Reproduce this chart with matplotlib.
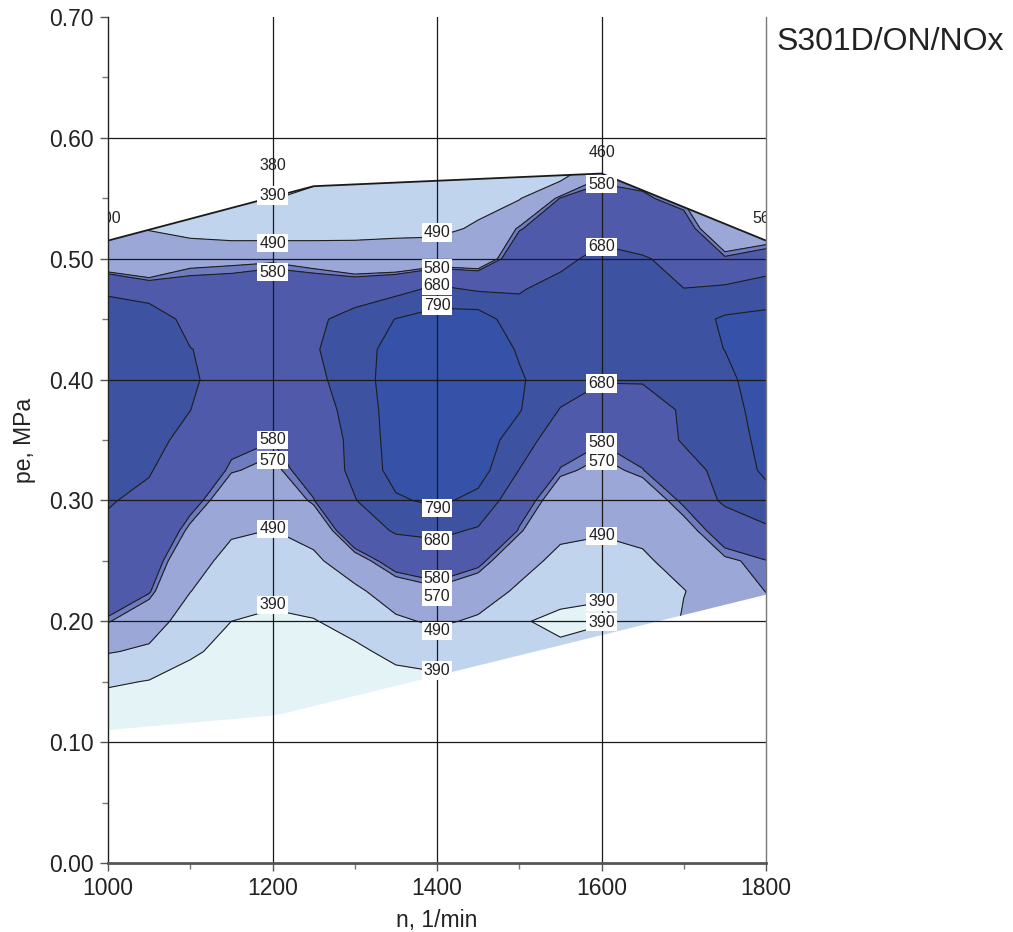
import numpy as np
import matplotlib
matplotlib.use("Agg")
import matplotlib.pyplot as plt
from matplotlib.patches import Polygon
from matplotlib.ticker import MultipleLocator

plt.rcParams['font.family'] = ['Liberation Sans', 'DejaVu Sans']

# ---------------- data ----------------
speed = [1000, 1050, 1100, 1150, 1200, 1250, 1300, 1350, 1400,
         1450, 1500, 1550, 1600, 1650, 1700, 1750, 1800]
pe = [0.100, 0.125, 0.150, 0.175, 0.200, 0.225, 0.250, 0.275, 0.300, 0.325,
      0.350, 0.375, 0.400, 0.425, 0.450, 0.475, 0.500, 0.525, 0.550, 0.575]

# NOx values, one list per speed (bottom -> top in pe)
nox_by_speed = [
    [260, 330, 405, 496, 573, 617, 640, 665, 686, 700, 715, 730, 742, 745, 743, 660, 500, 495, 485, 475],
    [270, 320, 385, 475, 533, 584, 608, 634, 661, 686, 708, 730, 748, 750, 756, 610, 503, 489, 470, 450],
    [290, 320, 358, 402, 447, 492, 526, 561, 598, 624, 652, 681, 695, 683, 639, 598, 557, 458, 430, 410],
    [300, 320, 340, 365, 390, 427, 463, 501, 540, 573, 593, 612, 632, 640, 630, 600, 561, 442, 388, 360],
    [290, 310, 330, 350, 378, 409, 449, 488, 523, 560, 581, 600, 625, 645, 640, 615, 563, 441, 388, 360],
    [300, 330, 350, 368, 386, 427, 471, 523, 578, 603, 615, 630, 650, 668, 660, 615, 548, 451, 403, 370],
    [320, 345, 360, 375, 418, 471, 548, 625, 675, 705, 705, 718, 740, 748, 715, 623, 515, 474, 430, 415],
    [320, 345, 365, 410, 475, 539, 604, 690, 776, 830, 840, 842, 840, 825, 793, 644, 511, 480, 440, 420],
    [330, 355, 375, 420, 504, 561, 617, 704, 811, 842, 858, 862, 860, 855, 840, 701, 523, 477, 445, 425],
    [340, 360, 385, 423, 477, 535, 593, 668, 760, 835, 848, 852, 852, 855, 848, 665, 523, 497, 472, 450],
    [340, 360, 380, 398, 394, 476, 524, 576, 605, 678, 738, 797, 800, 781, 720, 672, 623, 576, 485, 440],
    [340, 360, 385, 399, 380, 405, 466, 510, 543, 577, 610, 675, 737, 755, 750, 715, 652, 616, 582, 420],
    [350, 380, 400, 420, 385, 393, 453, 499, 528, 560, 583, 635, 686, 715, 735, 738, 712, 639, 604, 554],
    [360, 380, 395, 400, 400, 438, 476, 511, 545, 578, 610, 640, 687, 715, 730, 725, 690, 607, 586, 560],
    [400, 430, 460, 480, 500, 487, 525, 555, 586, 637, 690, 690, 752, 762, 740, 681, 642, 603, 565, 545],
    [440, 470, 490, 500, 510, 540, 565, 600, 700, 715, 730, 748, 770, 791, 805, 695, 585, 520, 510, 500],
    [480, 510, 530, 540, 550, 571, 578, 660, 750, 810, 825, 835, 835, 825, 815, 735, 605, 530, 520, 510],
]

levels = [390, 490, 570, 580, 680, 790]

# operating range boundary
top_speed = [1000, 1200, 1250, 1600, 1800]
top_pe = [0.515, 0.551, 0.560, 0.5705, 0.515]
bottom_speed = [1800, 1215, 1200, 1000]
bottom_pe = [0.222, 0.124, 0.122, 0.110]

# contour labels
label_speed = [1200, 1200, 1200, 1400, 1400, 1400, 1400, 1600, 1600,
               1600, 1600, 1600, 1600, 1600, 1600,
               1200, 1200, 1200, 1200,
               1400, 1400, 1400, 1400, 1400, 1400]
label_pe = [0.552, 0.513, 0.489, 0.522, 0.4923, 0.478, 0.461, 0.5618, 0.5097,
            0.397, 0.348, 0.3326, 0.2706, 0.216, 0.1994,
            0.350, 0.3334, 0.2764, 0.2135,
            0.2937, 0.267, 0.2205, 0.235, 0.192, 0.159]
label_text = ['390', '490', '580', '490', '580', '680', '790', '580', '680',
              '680', '580', '570', '490', '390', '390',
              '580', '570', '490', '390',
              '790', '680', '570', '580', '490', '390']

# values written on the full-load line
edge_speed = [1000, 1200, 1600, 1800]
edge_pe = [0.533, 0.5775, 0.588, 0.533]
edge_text = ['300', '380', '460', '560']

# ---------------- plot ----------------
colors = ['#e4f3f6', '#c1d4ed', '#9ba7d7', '#6f7bbf', '#4f5baa', '#3e52a2', '#3551a8']

fig = plt.figure(figsize=(10.13, 9.32), dpi=100)
ax = fig.add_axes([108 / 1013, 69 / 932, 658 / 1013, 846 / 932])

N = np.array(speed, dtype=float)
P = np.array(pe, dtype=float)
Z = np.array(nox_by_speed, dtype=float).T

poly_x = top_speed + bottom_speed
poly_y = top_pe + bottom_pe
clip = Polygon(np.column_stack([poly_x, poly_y]), closed=True,
               transform=ax.transData, facecolor='none', edgecolor='none')
ax.add_patch(clip)

all_levels = [0] + levels + [2000]
cf = ax.contourf(N, P, Z, levels=all_levels, colors=colors, zorder=1)
cf.set_clip_path(clip)
cl = ax.contour(N, P, Z, levels=levels, colors='#1e1e1e', linewidths=0.8, zorder=2)
cl.set_clip_path(clip)

# full-load line
ax.plot(top_speed, top_pe, color='#1a1a1a', lw=1.3, zorder=4, solid_capstyle='butt')

# grid
for gx in [1200, 1400, 1600]:
    ax.axvline(gx, color='#1a1a1a', lw=0.9, zorder=3)
for gy in [0.1, 0.2, 0.3, 0.4, 0.5, 0.6]:
    ax.axhline(gy, color='#1a1a1a', lw=0.9, zorder=3)

for x, y, t in zip(label_speed, label_pe, label_text):
    ax.text(x, y, t, ha='center', va='center', fontsize=11.5, color='#222222',
            zorder=6,
            bbox=dict(boxstyle='square,pad=0.12', fc='white', ec='none'))

for x, y, t in zip(edge_speed, edge_pe, edge_text):
    ax.text(x, y, t, ha='center', va='center', fontsize=11.5, color='#222222',
            zorder=6, clip_on=True)

ax.set_xlim(1000, 1800)
ax.set_ylim(0.0, 0.70)
ax.xaxis.set_major_locator(MultipleLocator(200))
ax.xaxis.set_minor_locator(MultipleLocator(100))
ax.yaxis.set_major_locator(MultipleLocator(0.1))
ax.yaxis.set_minor_locator(MultipleLocator(0.05))
ax.yaxis.set_major_formatter(matplotlib.ticker.FormatStrFormatter('%.2f'))

ax.tick_params(which='major', direction='out', length=6, width=1, color='#555555',
               labelsize=16.5, labelcolor='#222222', pad=4)
ax.tick_params(which='minor', direction='out', length=4, width=1, color='#777777')

ax.spines['top'].set_visible(False)
ax.spines['left'].set_color('#222222')
ax.spines['left'].set_linewidth(1.0)
ax.spines['bottom'].set_color('#555555')
ax.spines['bottom'].set_linewidth(2.0)
ax.spines['right'].set_color('#777777')
ax.spines['right'].set_linewidth(1.0)
for s in ax.spines.values():
    s.set_zorder(7)

fig.text(24 / 1013, 1 - 440 / 932, 'pe, MPa', rotation=90, ha='center', va='center',
         fontsize=16.5, color='#222222')
fig.text(437 / 1013, 1 - 920 / 932, 'n, 1/min', ha='center', va='center',
         fontsize=16.5, color='#222222')
fig.text(777 / 1013, 1 - 42 / 932, 'S301D/ON/NOx', ha='left', va='center',
         fontsize=23, color='#222222')

fig.savefig('out.png', dpi=100)
